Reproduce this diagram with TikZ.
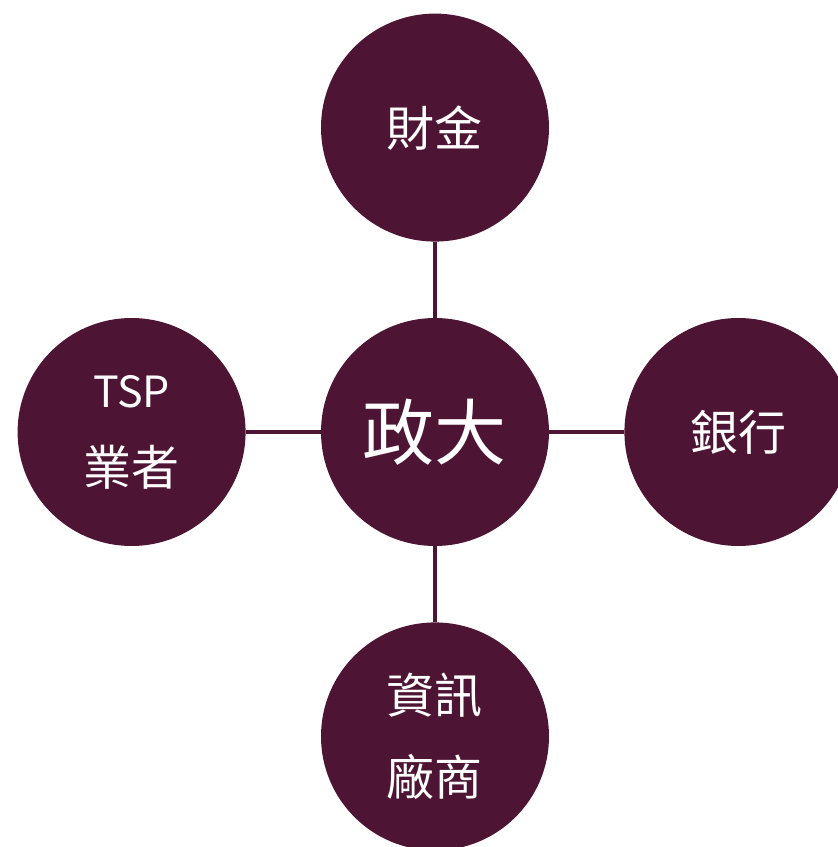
\documentclass[tikz,border=0pt]{standalone}
\usepackage{fontspec}
\setmainfont{Noto Sans CJK TC}
\usetikzlibrary{positioning}
\definecolor{nccuPlum}{RGB}{78, 20, 52}

\begin{document}
\begin{tikzpicture}[
    node distance=76pt,
    % 圓形節點樣式
    hub/.style={
        circle,
        draw=none,
        fill=nccuPlum,
        text=white,
        align=center,
        inner sep=0pt,
        minimum size=228pt,
        font=\fontsize{48}{82}\selectfont
    },
    % 中心節點
    core/.style={
        hub,
        font=\fontsize{72}{80}\selectfont
    },
    % 連接線
    link/.style={
        draw=nccuPlum,
        line width=4pt
    }
]
    % 固定畫面範圍
    \useasboundingbox (-435pt,-415pt) rectangle (403pt,432pt);

    % --- 中心 ---
    \node[core] (nccu) {政大};

    % --- 四周 ---
    \node[hub, above=of nccu] (fisc) {財金};
    \node[hub, left=75pt of nccu, font=\fontsize{48}{78}\selectfont] (tsp)
        {{\fontsize{43}{78}\selectfont TSP}\\業者};
    \node[hub, right=75pt of nccu] (bank) {銀行};
    \node[hub, below=of nccu] (vendor) {資訊\\廠商};

    % --- 連接線 ---
    \draw[link] (nccu) -- (fisc);
    \draw[link] (nccu) -- (tsp);
    \draw[link] (nccu) -- (bank);
    \draw[link] (nccu) -- (vendor);

\end{tikzpicture}
\end{document}
